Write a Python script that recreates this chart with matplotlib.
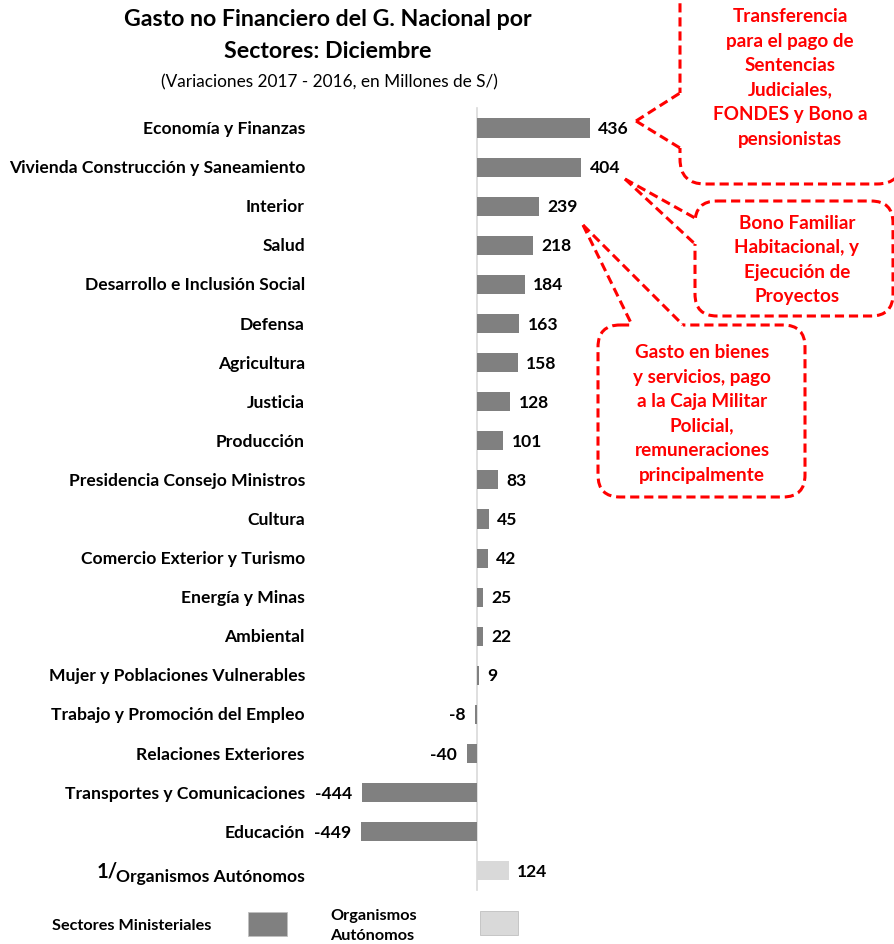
import matplotlib
matplotlib.use("Agg")
import matplotlib.pyplot as plt
from matplotlib.patches import FancyBboxPatch, Polygon, Rectangle
from matplotlib.lines import Line2D
import matplotlib.transforms as mtrans

plt.rcParams['font.family'] = ['Lato', 'DejaVu Sans']

categories = ["Economía y Finanzas", "Vivienda Construcción y Saneamiento", "Interior", "Salud",
              "Desarrollo e Inclusión Social", "Defensa", "Agricultura", "Justicia", "Producción",
              "Presidencia Consejo Ministros", "Cultura", "Comercio Exterior y Turismo",
              "Energía y Minas", "Ambiental", "Mujer y Poblaciones Vulnerables",
              "Trabajo y Promoción del Empleo", "Relaciones Exteriores",
              "Transportes y Comunicaciones", "Educación"]
values = [436, 404, 239, 218, 184, 163, 158, 128, 101, 83, 45, 42, 25, 22, 9, -8, -40, -444, -449]
auto_label = "Organismos Autónomos"
auto_value = 124

title_lines = ["Gasto no Financiero del G. Nacional por", "Sectores: Diciembre"]
subtitle = "(Variaciones 2017 - 2016, en Millones de S/)"
notes = ["Transferencia\npara el pago de\nSentencias\nJudiciales,\nFONDES y Bono a\npensionistas",
         "Bono Familiar\nHabitacional, y\nEjecución de\nProyectos",
         "Gasto en bienes\ny servicios, pago\na la Caja Militar\nPolicial,\nremuneraciones\nprincipalmente"]
legend_labels = ["Sectores Ministeriales", "Organismos\nAutónomos"]

DARK = "#808080"
LIGHT = "#D9D9D9"
RED = "#FF0000"

W, H = 895, 945
fig = plt.figure(figsize=(W / 100, H / 100), dpi=100)
ax = fig.add_axes([0, 0, 1, 1])
ax.set_axis_off()

sx = 0.2585
x0 = 477
ax.set_xlim(-x0 / sx, (W - x0) / sx)
ry0, rdy = 129, 39.1
ax.set_ylim((H - ry0) / rdy, -ry0 / rdy)

pix = mtrans.Affine2D().scale(1 / W, -1 / H).translate(0, 1) + fig.transFigure
blend = mtrans.blended_transform_factory(pix, ax.transData)

n = len(categories)
ys = list(range(n))
ax.barh(ys, values, height=0.49, color=DARK, zorder=2)
ax.barh([n], [auto_value], height=0.49, color=LIGHT, zorder=2)
ax.plot([0, 0], [-0.5, n + 0.5], color="#D9D9D9", lw=1.2, zorder=1)

fs = 12.6
for i, (c, v) in enumerate(zip(categories, values)):
    ax.text(305, i, c, transform=blend, ha="right", va="center", fontsize=fs, fontweight="bold")
    if v >= 0:
        ax.annotate(str(v), xy=(v, i), xytext=(6, 0), textcoords="offset points",
                    ha="left", va="center", fontsize=fs, fontweight="bold")
    else:
        ax.annotate(str(v), xy=(v, i), xytext=(-7, 0), textcoords="offset points",
                    ha="right", va="center", fontsize=fs, fontweight="bold")
t_auto = ax.text(305, n + 0.12, auto_label, transform=blend, ha="right", va="center",
                 fontsize=fs, fontweight="bold")
ax.annotate("1/", xy=(0, 1), xycoords=t_auto, ha="right", va="top", xytext=(1, 5),
            textcoords="offset points", fontsize=fs + 2, fontweight="bold")
ax.annotate(str(auto_value), xy=(auto_value, n), xytext=(6, 0), textcoords="offset points",
            ha="left", va="center", fontsize=fs, fontweight="bold")

fig.text(328 / W, 1 - 20 / H, title_lines[0], ha="center", va="center", fontsize=16.7, fontweight="bold")
fig.text(328 / W, 1 - 51 / H, title_lines[1], ha="center", va="center", fontsize=16.7, fontweight="bold")
fig.text(329 / W, 1 - 82 / H, subtitle, ha="center", va="center", fontsize=12.4)

dash = (0, (3.0, 1.6))
lw = 2.2


def callout(x, y, w, h, tip, p1, p2, inward, text, tx, ty, r=22):
    box = FancyBboxPatch((x, y), w, h, boxstyle=f"round,pad=0,rounding_size={r}",
                         transform=pix, facecolor="white", edgecolor=RED, lw=lw,
                         linestyle=dash, zorder=5, clip_on=False)
    fig.add_artist(box)
    dx, dy = inward
    cover = Polygon([tip, p1, (p1[0] + dx, p1[1] + dy), (p2[0] + dx, p2[1] + dy), p2],
                    closed=True, transform=pix, facecolor="white", edgecolor="none", zorder=6)
    fig.add_artist(cover)
    for p in (p1, p2):
        fig.add_artist(Line2D([tip[0], p[0]], [tip[1], p[1]], transform=pix, color=RED,
                              lw=lw, linestyle=dash, zorder=7))
    fig.text(tx / W, 1 - ty / H, text, ha="center", va="center", color=RED, fontsize=13.6,
             fontweight="bold", linespacing=1.53, zorder=8)


callout(680, -40, 222, 225, (636, 122), (680, 94), (680, 149), (3, 0), notes[0], 790, 78, r=25)
callout(695, 202, 198, 115, (625, 180), (695, 219), (695, 245), (3, 0), notes[1], 797, 260)
callout(598, 326, 207, 172, (583, 226), (632, 326), (683, 326), (0, 3), notes[2], 702, 414)

fig.text(52 / W, 1 - 926 / H, legend_labels[0], ha="left", va="center", fontsize=11.7, fontweight="bold")
fig.add_artist(Rectangle((248, 913), 39, 24, transform=pix, facecolor=DARK, edgecolor="#BFBFBF", lw=0.6))
fig.text(330 / W, 1 - 926 / H, legend_labels[1], ha="left", va="center", fontsize=11.7,
         fontweight="bold", linespacing=1.55)
fig.add_artist(Rectangle((480, 912), 38, 24, transform=pix, facecolor=LIGHT, edgecolor="#BFBFBF", lw=0.6))

fig.savefig("out.png", dpi=100, facecolor="white")
